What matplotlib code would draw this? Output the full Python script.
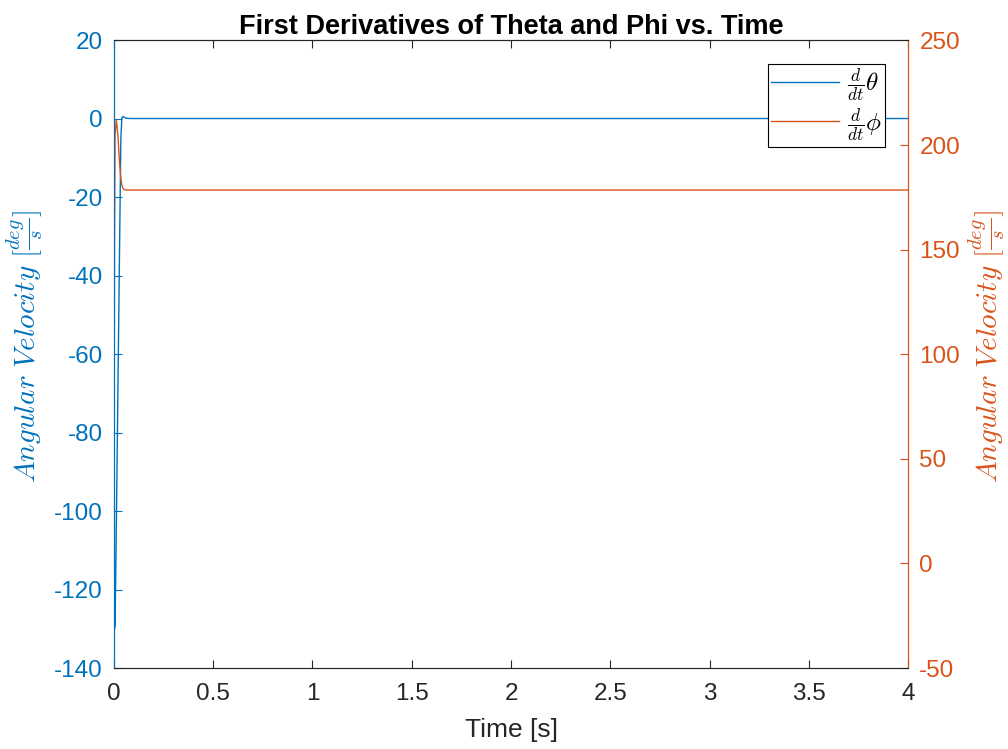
import matplotlib
matplotlib.use('Agg')
import matplotlib.pyplot as plt

# time samples and the two angular velocity traces (deg/s)
time = [0.0, 0.003, 0.006, 0.012, 0.02, 0.028, 0.035, 0.04, 0.045, 0.05, 0.06, 0.08, 0.1, 4.0]
theta_dot = [0.0, -130.0, -129.0, -105.0, -70.0, -35.0, -5.0, 0.2, 0.6, 0.5, 0.2, 0.1, 0.1, 0.1]
phi_dot = [0.0, 150.0, 205.0, 212.0, 205.0, 192.0, 184.0, 181.0, 179.5, 178.8, 178.5, 178.5, 178.5, 178.5]

blue = '#0072BD'
orange = '#D95319'
dark = '#262626'

plt.rcParams['mathtext.fontset'] = 'cm'
plt.rcParams['font.family'] = 'Liberation Sans'
plt.rcParams['axes.unicode_minus'] = False

fig, ax = plt.subplots(figsize=(10.08, 7.49), dpi=100)
fig.subplots_adjust(left=0.113, right=0.901, top=0.946, bottom=0.108)
ax2 = ax.twinx()

l1, = ax.plot(time, theta_dot, color=blue, linewidth=1.0)
l2, = ax2.plot(time, phi_dot, color=orange, linewidth=1.0)

ax.set_xlim(0, 4)
ax.set_ylim(-140, 20)
ax2.set_ylim(-50, 250)
ax.set_xticks([0, 0.5, 1, 1.5, 2, 2.5, 3, 3.5, 4])
ax.set_xticklabels(['0', '0.5', '1', '1.5', '2', '2.5', '3', '3.5', '4'])
ax.set_yticks(range(-140, 21, 20))
ax2.set_yticks(range(-50, 251, 50))

ax.tick_params(axis='x', direction='in', labelsize=17.5, colors=dark, length=6, pad=11, top=True)
ax.tick_params(axis='y', direction='in', labelsize=17.5, colors=blue, length=6, pad=8)
ax2.tick_params(axis='y', direction='in', labelsize=17.5, colors=orange, length=6, pad=8)

for a in (ax, ax2):
    a.spines['top'].set_color(dark)
    a.spines['bottom'].set_color(dark)
    a.spines['left'].set_color(blue)
    a.spines['right'].set_color(orange)
    for s in a.spines.values():
        s.set_linewidth(0.8)

ax.set_title('First Derivatives of Theta and Phi vs. Time', fontsize=19.5, fontweight='bold', color='black', pad=3)
ax.set_xlabel('Time [s]', fontsize=19, color=dark, labelpad=9)
ax.set_ylabel(r'$Angular\ Velocity\ [\frac{deg}{s}]$', fontsize=21, color=blue)
ax2.set_ylabel(r'$Angular\ Velocity\ [\frac{deg}{s}]$', fontsize=21, color=orange)
ax.yaxis.set_label_coords(-0.087, 0.513)
ax2.yaxis.set_label_coords(1.074, 0.513)

leg = ax2.legend([l1, l2], [r'$\frac{d}{dt}\theta$', r'$\frac{d}{dt}\phi$'], loc='upper right',
                 bbox_to_anchor=(0.971, 0.963), borderaxespad=0, fontsize=18, fancybox=False, framealpha=1,
                 edgecolor='black', borderpad=0.12, handlelength=2.7, labelspacing=0.05, handletextpad=0.35)
leg.get_frame().set_linewidth(0.8)

fig.savefig('out.png', dpi=100)
